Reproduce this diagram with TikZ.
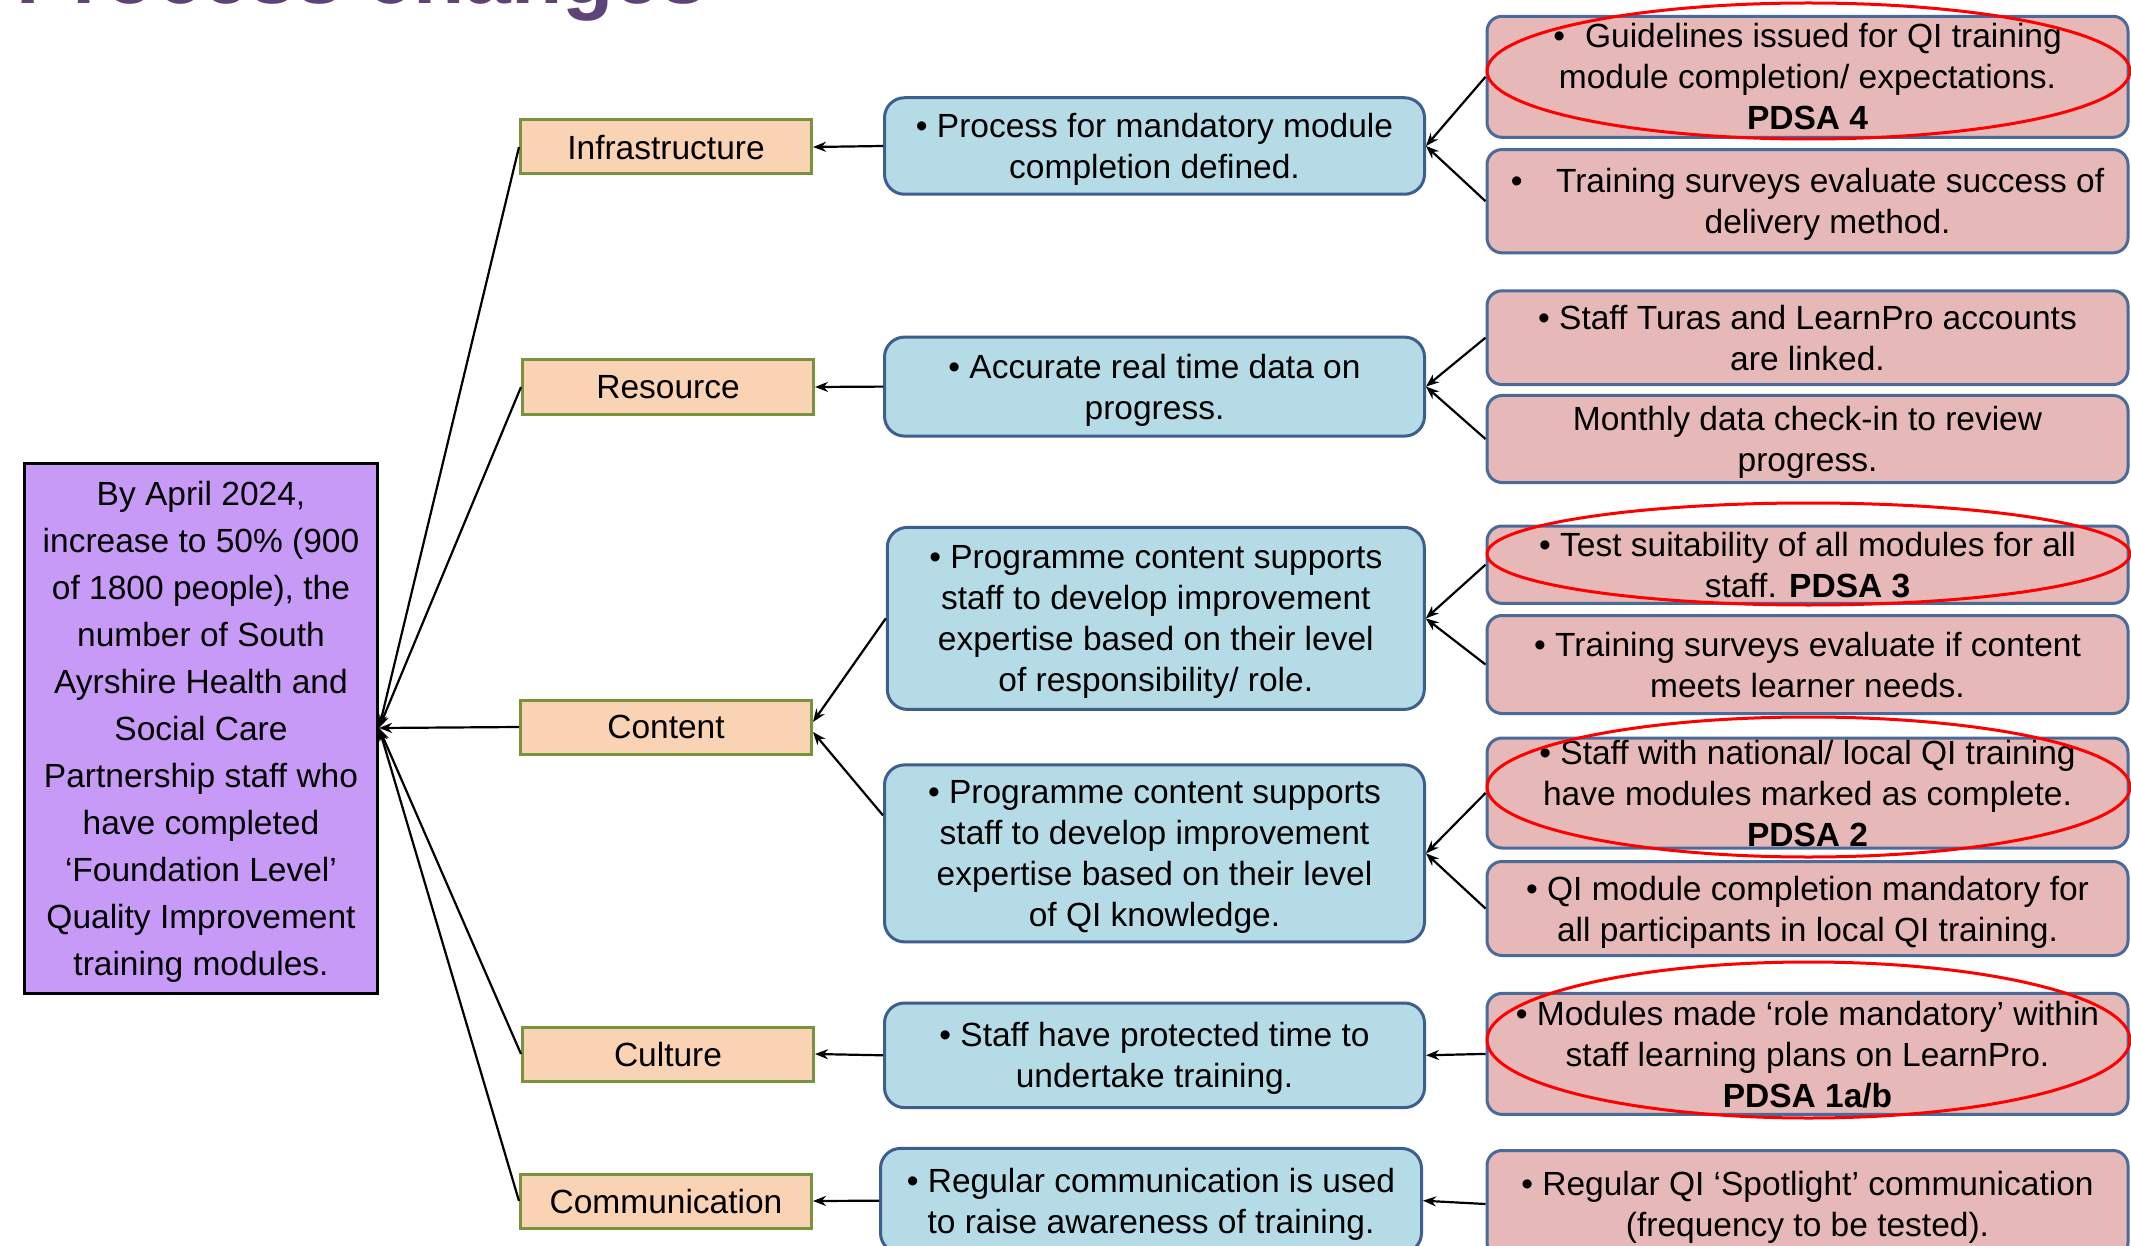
\documentclass[tikz,border=0pt]{standalone}
\usepackage{fontspec}
\setmainfont{Liberation Sans}
\usetikzlibrary{arrows.meta}
\definecolor{goalfill}{HTML}{C89AF7}
\definecolor{peach}{HTML}{F9D3B4}
\definecolor{drvborder}{HTML}{77933C}
\definecolor{chgfill}{HTML}{B5DCE6}
\definecolor{chgborder}{HTML}{3E5F8D}
\definecolor{ideafill}{HTML}{E6B8B7}
\definecolor{ideaborder}{HTML}{4A6B9A}
\definecolor{titlecol}{HTML}{5E4379}
\definecolor{ringred}{HTML}{FF0000}
\begin{document}
\begin{tikzpicture}[x=1pt,y=-1pt,
  boxtext/.style={inner sep=0pt, align=center, font=\fontsize{33.5}{41}\selectfont, text=black, text depth=0pt},
  goal/.style={boxtext, fill=goalfill, draw=black, line width=3pt, minimum width=353pt, minimum height=530pt, font=\fontsize{33.5}{47}\selectfont},
  driver/.style={boxtext, fill=peach, draw=drvborder, line width=3pt, minimum width=291pt, minimum height=54pt},
  change/.style={boxtext, fill=chgfill, draw=chgborder, line width=3pt, rounded corners=20pt, minimum width=540pt},
  idea/.style={boxtext, fill=ideafill, draw=ideaborder, line width=3pt, rounded corners=15pt, minimum width=641pt},
  conn/.style={draw=black, line width=2.2pt, -{Stealth[length=13pt,width=10pt]}},
  pdsaring/.style={draw=ringred, line width=3pt}
]
\useasboundingbox (0,0) rectangle (2131,1246);
\clip (0,0) rectangle (2131,1246);
\fill[white] (0,0) rectangle (2131,1246);

% title (cut off at top)
\node[anchor=base west, inner sep=0pt, font=\bfseries\fontsize{84}{90}\selectfont, text=titlecol] (title) at (16,4) {Process changes};

% goal
\node[goal] (goal) at (201,728) {By April 2024,\\increase to 50\% (900\\of 1800 people), the\\number of South\\Ayrshire Health and\\Social Care\\Partnership staff who\\have completed\\‘Foundation Level’\\Quality Improvement\\training modules.};

% drivers
\node[driver] (d1) at (666,147) {Infrastructure};
\node[driver] (d2) at (668,387) {Resource};
\node[driver] (d3) at (666,727) {Content};
\node[driver] (d4) at (668,1054) {Culture};
\node[driver] (d5) at (666,1201) {Communication};

% changes
\node[change, minimum height=96.5pt] (c1) at (1154.5,146) {• Process for mandatory module\\completion defined.};
\node[change, minimum height=99pt] (c2) at (1154.5,386.6) {• Accurate real time data on\\progress.};
\node[change, minimum height=182pt, minimum width=537pt] (c3) at (1155.8,618.4) {• Programme content supports\\staff to develop improvement\\expertise based on their level\\of responsibility/ role.};
\node[change, minimum height=177pt] (c4) at (1154.5,853.4) {• Programme content supports\\staff to develop improvement\\expertise based on their level\\of QI knowledge.};
\node[change, minimum height=104.6pt] (c5) at (1154.5,1055.3) {• Staff have protected time to\\undertake training.};
\node[change, minimum height=104.6pt, minimum width=541pt] (c6) at (1151,1200.7) {• Regular communication is used\\to raise awareness of training.};

% ideas
\node[idea, minimum height=121pt] (r1) at (1807.5,76.8) {•\hspace{0.6em}Guidelines issued for QI training\\module completion/ expectations.\\\textbf{PDSA 4}};
\node[idea, minimum height=103.3pt] (r2) at (1807.5,201.2) {•\hspace{1em}Training surveys evaluate success of\\\hspace{1.2em}delivery method.};
\node[idea, minimum height=93.8pt] (r3) at (1807.5,337.7) {• Staff Turas and LearnPro accounts\\are linked.};
\node[idea, minimum height=87pt] (r4) at (1807.5,439) {Monthly data check-in to review\\progress.};
\node[idea, minimum height=77.4pt] (r5) at (1807.5,564.7) {• Test suitability of all modules for all\\staff. \textbf{PDSA 3}};
\node[idea, minimum height=98pt] (r6) at (1807.5,664.5) {• Training surveys evaluate if content\\meets learner needs.};
\node[idea, minimum height=110pt] (r7) at (1807.5,793) {• Staff with national/ local QI training\\have modules marked as complete.\\\textbf{PDSA 2}};
\node[idea, minimum height=94pt] (r8) at (1807.5,908.5) {• QI module completion mandatory for\\all participants in local QI training.};
\node[idea, minimum height=121pt] (r9) at (1807.5,1053.9) {• Modules made ‘role mandatory’ within\\staff learning plans on LearnPro.\\\textbf{PDSA 1a/b}};
\node[idea, minimum height=107pt] (r10) at (1807.5,1204) {• Regular QI ‘Spotlight’ communication\\(frequency to be tested).};

% PDSA rings
\draw[pdsaring] (1808.5,71) ellipse [x radius=321.5pt, y radius=68pt];
\draw[pdsaring] (1808.5,554) ellipse [x radius=321.5pt, y radius=51pt];
\draw[pdsaring] (1808.5,787) ellipse [x radius=321.5pt, y radius=70pt];
\draw[pdsaring] (1808.5,1040) ellipse [x radius=321.5pt, y radius=78pt];

% connectors: ideas -> changes
\draw[conn] (r1.west) -- (c1.east);
\draw[conn] (r2.west) -- (c1.east);
\draw[conn] (r3.west) -- (c2.east);
\draw[conn] (r4.west) -- (c2.east);
\draw[conn] (r5.west) -- (c3.east);
\draw[conn] (r6.west) -- (c3.east);
\draw[conn] (r7.west) -- (c4.east);
\draw[conn] (r8.west) -- (c4.east);
\draw[conn] (r9.west) -- (c5.east);
\draw[conn] (r10.west) -- (c6.east);

% changes -> drivers
\draw[conn] (c1.west) -- (d1.east);
\draw[conn] (c2.west) -- (d2.east);
\draw[conn] (c3.west) -- ([yshift=5pt]d3.east);
\draw[conn] ([yshift=38pt]c4.west) -- ([yshift=-5pt]d3.east);
\draw[conn] (c5.west) -- (d4.east);
\draw[conn] (c6.west) -- (d5.east);

% drivers -> goal
\draw[conn] (d1.west) -- (goal.east);
\draw[conn] (d2.west) -- (goal.east);
\draw[conn] (d3.west) -- (goal.east);
\draw[conn] (d4.west) -- (goal.east);
\draw[conn] (d5.west) -- (goal.east);
\end{tikzpicture}
\end{document}
